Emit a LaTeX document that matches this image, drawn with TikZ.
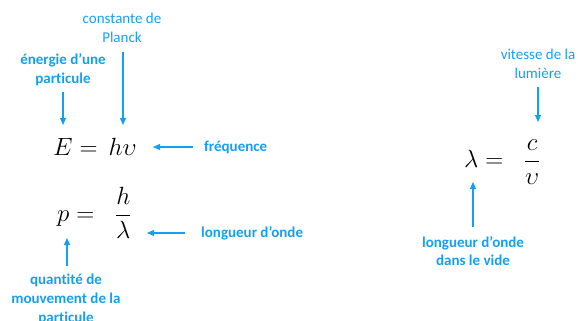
\documentclass[tikz,border=0pt]{standalone}
\usepackage{fontspec}
\setmainfont[RawFeature=-liga]{Carlito}
\usetikzlibrary{arrows.meta}
\definecolor{lblue}{RGB}{20,160,240}
\begin{document}
\begin{tikzpicture}[x=1pt,y=-1pt,
  lbl/.style={text=lblue,font=\fontsize{15}{18.7}\selectfont\bfseries,align=center,inner sep=0pt},
  lblr/.style={text=lblue,font=\fontsize{15}{18.7}\selectfont,align=center,inner sep=0pt},
  eq/.style={font=\fontsize{30}{32}\selectfont,inner sep=0pt},
  arr/.style={draw=lblue,line width=1.2pt,-{Triangle[length=7pt,width=6pt]}}]
\useasboundingbox (0,0) rectangle (578,321);
% labels
\node[lblr] (planck) at (122,27.5) {constante de\\Planck};
\node[lbl] (energie) at (63,69.5) {énergie d’une\\particule};
\node[lbl,anchor=west] (freq) at (204,147) {fréquence};
\node[lbl,anchor=west] (onde) at (201,233) {longueur d’onde};
\node[lbl] (qte) at (66,299.5) {quantité de\\mouvement de la\\particule};
\node[lblr] (vitesse) at (538,63.5) {vitesse de la\\lumière};
\node[lbl] (vide) at (473,251) {longueur d’onde\\dans le vide};
% formulas
\node[eq,anchor=base west] (ehv) at (53,155) {$E=\,h\upsilon$};
\node[eq,anchor=base west] (ph) at (57,221) {$p=\;\;\displaystyle\frac{h}{\lambda}$};
\node[eq,anchor=base west] (lc) at (464,167) {$\lambda=\;\;\displaystyle\frac{c}{\upsilon}$};
% arrow endpoints
\coordinate (tH) at (123,125);
\coordinate (sH) at (123,52);
\coordinate (tE) at (63,125);
\coordinate (sE) at (63,92);
\coordinate (tF) at (153,147);
\coordinate (tO) at (147,233);
\coordinate (tP) at (67,238);
\coordinate (sP) at (67,266);
\coordinate (tC) at (538,122);
\coordinate (sC) at (538,87);
\coordinate (tL) at (473,182);
\coordinate (sL) at (473,227);
\draw[arr] (sH) -- (tH);
\draw[arr] (sE) -- (tE);
\draw[arr] (freq.west) ++(-11,0) coordinate (sF) -- (tF);
\draw[arr] (onde.west) ++(-16,0) coordinate (sO) -- (tO);
\draw[arr] (sP) -- (tP);
\draw[arr] (sC) -- (tC);
\draw[arr] (sL) -- (tL);
\end{tikzpicture}
\end{document}
